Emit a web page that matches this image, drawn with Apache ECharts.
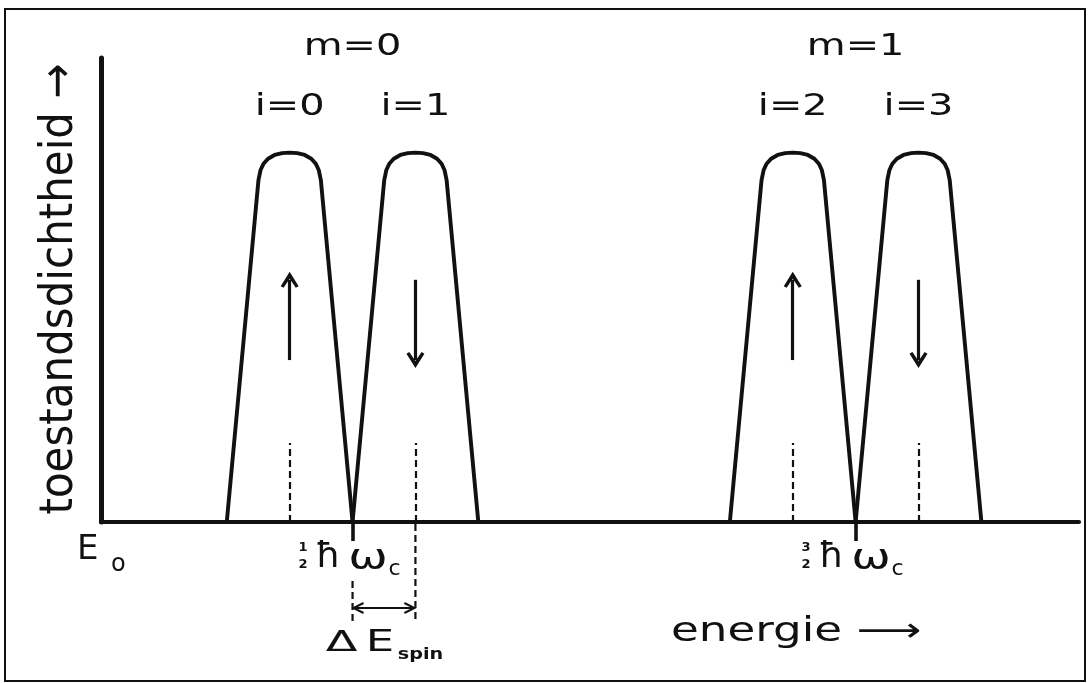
<!DOCTYPE html>
<html>
<head>
<meta charset="utf-8">
<script src="https://cdn.jsdelivr.net/npm/echarts@6/dist/echarts.min.js"></script>
<style>
  html, body { margin: 0; padding: 0; background: #ffffff; }
  #chart { width: 1088px; height: 683px; }
</style>
</head>
<body>
<div id="chart"></div>
<script>
// Energy in units of ħω_c (E0 at 0), density of states in arbitrary units (axis top = 1)
const landauLevels = [0.5, 1.5];
const landauNames = ['m=0', 'm=1'];
const landauFractions = [['1', '2'], ['3', '2']];
const spinLevels = [0.375, 0.625, 1.375, 1.625];
const spinNames = ['i=0', 'i=1', 'i=2', 'i=3'];
const spinUp = [true, false, true, false];
// outline of one broadened level: [offset from its centre, density]
const levelProfile = [
  [-0.125, 0], [-0.062, 0.737], [-0.058, 0.758], [-0.052, 0.772], [-0.043, 0.783],
  [-0.030, 0.791], [-0.015, 0.795], [0, 0.796], [0.015, 0.795], [0.030, 0.791],
  [0.043, 0.783], [0.052, 0.772], [0.058, 0.758], [0.062, 0.737], [0.125, 0]
];
const centreMarkTop = 0.17;
const spinArrowSpan = [0.349, 0.522];
const energyMax = 1.944;
const densityMax = 1;

const ink = '#111111';
const FONT = '"DejaVu Sans", "Liberation Sans", sans-serif';
// thick open arrow head, tip at the top of the path box
const arrowHead = 'path://M0,8.6 L5,0 L10,8.6 L8.4,9.6 L5,4.2 L1.6,9.6 Z';

const chart = echarts.init(document.getElementById('chart'), null, { renderer: 'canvas' });

function levelSeries(c, k) {
  const arrowFrom = spinUp[k] ? spinArrowSpan[0] : spinArrowSpan[1];
  const arrowTo = spinUp[k] ? spinArrowSpan[1] : spinArrowSpan[0];
  return {
    type: 'line',
    name: spinNames[k],
    data: levelProfile.map(([dx, y]) => [c + dx, y]),
    symbol: 'none',
    clip: false,
    silent: true,
    lineStyle: { color: ink, width: 3.9, join: 'round', cap: 'round' },
    markLine: {
      silent: true,
      animation: false,
      symbol: 'none',
      label: { show: false },
      data: [
        [
          { coord: [c, 0], symbol: 'none', lineStyle: { color: ink, width: 2.2, type: [7, 4] } },
          { coord: [c, centreMarkTop], symbol: 'none' }
        ],
        [
          { coord: [c, arrowFrom], symbol: 'none', lineStyle: { color: ink, width: 3.2, type: 'solid' } },
          { coord: [c, arrowTo], symbol: arrowHead, symbolSize: [18, 16], symbolOffset: [0, 0] }
        ]
      ]
    }
  };
}

chart.setOption({
  animation: false,
  backgroundColor: '#ffffff',
  grid: { left: 101, right: 9, top: 58, bottom: 161 },
  xAxis: {
    type: 'value',
    min: 0,
    max: energyMax,
    splitLine: { show: false },
    axisLine: { show: true, lineStyle: { color: ink, width: 4.2 } },
    axisTick: { show: true, customValues: landauLevels, length: 19, lineStyle: { color: ink, width: 3.6 } },
    axisLabel: { show: false }
  },
  yAxis: {
    type: 'value',
    min: 0,
    max: densityMax,
    splitLine: { show: false },
    axisLine: { show: true, lineStyle: { color: ink, width: 5 } },
    axisTick: { show: false },
    axisLabel: { show: false }
  },
  series: spinLevels.map(levelSeries)
});

// annotations placed from the axes' own scales
const px = (x, y) => chart.convertToPixel({ gridIndex: 0 }, [x, y]);
const [ox, oy] = px(0, 0);

function txt(text, x, y, size, opts) {
  opts = opts || {};
  return {
    type: 'text',
    x: x, y: y,
    rotation: opts.rotation || 0,
    scaleX: opts.sx || 1,
    scaleY: opts.sy || 1,
    silent: true,
    style: {
      text: text,
      font: (opts.weight || 'normal') + ' ' + size + 'px ' + FONT,
      fill: ink,
      align: opts.align || 'center', textAlign: opts.align || 'center',
      verticalAlign: 'middle', textVerticalAlign: 'middle'
    }
  };
}
function seg(x1, y1, x2, y2, width, dash) {
  return {
    type: 'line', silent: true,
    shape: { x1: x1, y1: y1, x2: x2, y2: y2 },
    style: { stroke: ink, lineWidth: width, lineDash: dash || null, lineCap: 'butt' }
  };
}
function chevron(x, y, dir) {
  return {
    type: 'polyline', silent: true,
    shape: { points: [[x + dir * 10, y - 5], [x, y], [x + dir * 10, y + 5]] },
    style: { stroke: ink, lineWidth: 2, fill: null, lineJoin: 'miter' }
  };
}

const g = [];
// outer frame
g.push({ type: 'rect', silent: true, shape: { x: 5, y: 9, width: 1080, height: 672 },
  style: { fill: null, stroke: ink, lineWidth: 2 } });

// level names above the peaks
landauLevels.forEach((L, k) => g.push(txt(landauNames[k], px(L, 0)[0], 47, 30, { sx: 1.33 })));
spinLevels.forEach((c, k) => g.push(txt(spinNames[k], px(c, 0)[0], 107.5, 30, { sx: 1.33 })));

// vertical axis title
g.push(txt('toestandsdichtheid \u2192', 60, (px(0, 0)[1] + px(0, densityMax)[1]) / 2 - 1, 42,
  { rotation: Math.PI / 2, sy: 1.1 }));

// energy axis title
g.push(txt('energie \u27F6', 671, 632, 33, { sx: 1.37, align: 'left' }));

// origin label E0
g.push(txt('E', ox - 24, oy + 28.5, 34, { align: 'left' }));
g.push(txt('o', ox + 10, oy + 42.7, 24, { align: 'left' }));

// ½ħω_c and 3/2ħω_c under the Landau level ticks
landauLevels.forEach((L, k) => {
  const X = px(L, 0)[0];
  g.push(txt(landauFractions[k][0], X - 49.5, oy + 26, 13, { weight: 'bold' }));
  g.push(txt(landauFractions[k][1], X - 49.5, oy + 43, 13, { weight: 'bold' }));
  g.push(txt('\u0127', X - 37, oy + 35.5, 36, { align: 'left' }));
  g.push(txt('\u03C9', X + 15.5, oy + 38, 35, { sx: 1.35 }));
  g.push(txt('c', X + 42, oy + 47.4, 22));
});

// spin splitting ΔE_spin between ½ħω_c and the i=1 level
const X1 = px(landauLevels[0], 0)[0];
const X2 = px(spinLevels[1], 0)[0];
g.push(seg(X1, oy + 59, X1, oy + 99, 2.2, [7, 4]));
g.push(seg(X2, oy + 2, X2, oy + 99, 2.2, [7, 4]));
g.push(seg(X1 + 1, oy + 86, X2 - 1, oy + 86, 2));
g.push(chevron(X1 + 1, oy + 86, 1));
g.push(chevron(X2 - 1, oy + 86, -1));
g.push(txt('\u0394', X1 - 11, oy + 121.5, 29, { sx: 1.6 }));
g.push(txt('E', X1 + 27.5, oy + 121, 30, { sx: 1.5 }));
g.push(txt('spin', X1 + 68, oy + 133, 16, { sx: 1.2, weight: 'bold' }));

chart.setOption({ graphic: { elements: g } });
</script>
</body>
</html>
